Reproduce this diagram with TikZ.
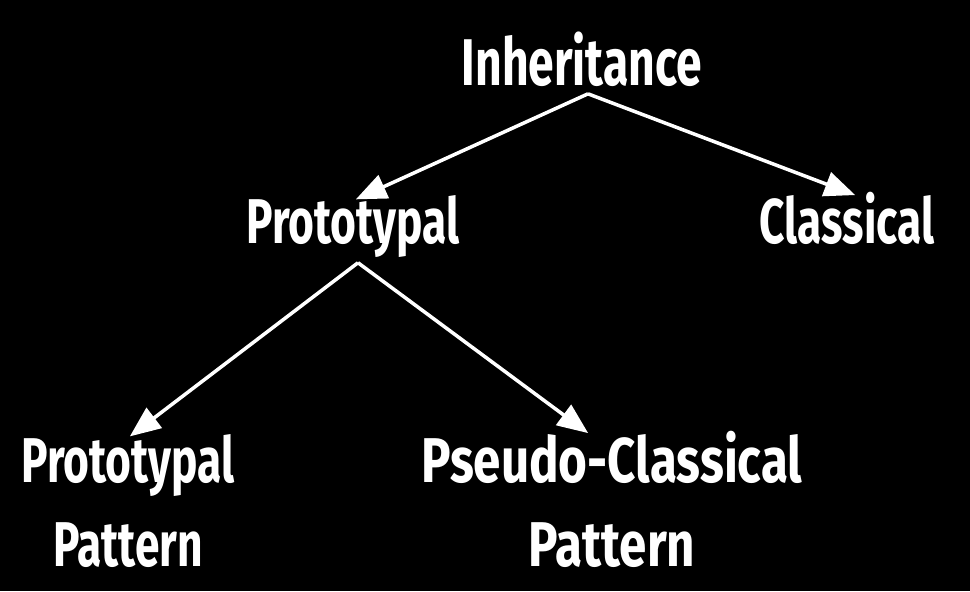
\documentclass[tikz,border=0pt]{standalone}
\usepackage{fontspec}
\setmainfont{Fira Sans}[FakeStretch=0.7, UprightFont=* Bold]
\usetikzlibrary{arrows}
\tikzstyle{term} = [text=white, inner sep=0pt, anchor=base, align=center, font=\fontsize{18}{23.9}\selectfont]
\tikzstyle{arrow} = [white, line width=1pt, ->, >=triangle 45]

\begin{document}
\begin{tikzpicture}
	\fill[black] (0,0) rectangle (9.70,5.91);
	\useasboundingbox (0,0) rectangle (9.70,5.91);

	\node (inh) [term, font=\fontsize{18.8}{24}\selectfont] at (5.82,5.06) {Inheritance};
	\node (proto) [term] at (3.53,3.48) {Prototypal};
	\node (classic) [term] at (8.47,3.48) {Classical};
		\draw [arrow] ([xshift=0.06cm, yshift=-0.07cm]inh.south) -- ([xshift=0.03cm, yshift=-0.05cm]proto.north);
		\draw [arrow] ([xshift=0.06cm, yshift=-0.07cm]inh.south) -- ([xshift=0.08cm, yshift=-0.04cm]classic.north);

	\node (protopat) [term] at (1.28,0.25) {Prototypal\\Pattern};
	\node (pseudo) [term, font=\fontsize{18}{23.9}\selectfont\addfontfeatures{FakeStretch=0.78}] at (6.12,0.25) {Pseudo-Classical\\Pattern};
		\draw [arrow] ([xshift=0.05cm, yshift=-0.05cm]proto.south) -- ([xshift=0.02cm, yshift=-0.03cm]protopat.north);
		\draw [arrow] ([xshift=0.05cm, yshift=-0.05cm]proto.south) -- ([xshift=-0.24cm, yshift=-0.03cm]pseudo.north);

\end{tikzpicture}
\end{document}
